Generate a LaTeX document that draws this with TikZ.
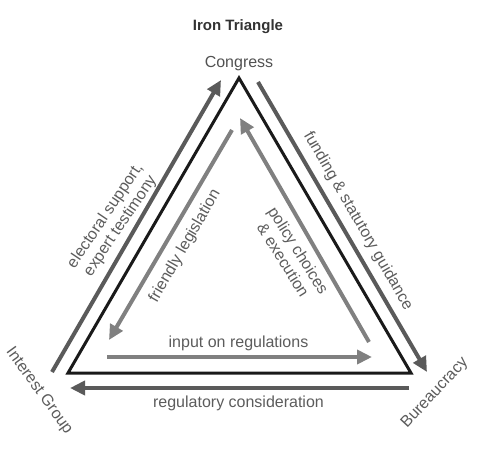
\documentclass[tikz,border=0pt]{standalone}
\usepackage{fontspec}
\setmainfont{Liberation Sans}
\usetikzlibrary{arrows.meta}
\definecolor{outergray}{HTML}{5A5A5A}
\definecolor{innergray}{HTML}{808080}
\definecolor{labelgray}{HTML}{5C5C5C}
\definecolor{titlegray}{HTML}{333333}
\definecolor{trigray}{HTML}{1A1A1A}
\begin{document}
\begin{tikzpicture}[x=1pt,y=-1pt,
  lbl/.style={text=labelgray, font=\fontsize{16}{18}\selectfont, inner sep=0pt, align=center},
  outerarrow/.style={draw=outergray, line width=4pt, -{Triangle[length=15pt,width=14pt]}},
  innerarrow/.style={draw=innergray, line width=4pt, -{Triangle[length=15pt,width=14pt]}},
  tri/.style={draw=trigray, line width=3pt, line join=miter}]
\useasboundingbox (0,0) rectangle (485,448);
% triangle vertices
\coordinate (A) at (239,78);
\coordinate (L) at (68,373);
\coordinate (R) at (411,373);
\draw[tri] (A) -- (L) -- (R) -- cycle;
% outer arrow ends
\coordinate (o1s) at (52,372);  \coordinate (o1e) at (221,80);
\coordinate (o2s) at (258,82);  \coordinate (o2e) at (427,372);
\coordinate (o3s) at (409,388); \coordinate (o3e) at (70,388);
% inner arrow ends
\coordinate (i1s) at (232,130); \coordinate (i1e) at (109,340);
\coordinate (i2s) at (369,342); \coordinate (i2e) at (240,118);
\coordinate (i3s) at (107,357); \coordinate (i3e) at (372,357);
\draw[outerarrow] (o1s) -- (o1e);
\draw[outerarrow] (o2s) -- (o2e);
\draw[outerarrow] (o3s) -- (o3e);
\draw[innerarrow] (i1s) -- (i1e);
\draw[innerarrow] (i2s) -- (i2e);
\draw[innerarrow] (i3s) -- (i3e);
% labels
\node[text=titlegray, font=\fontsize{15}{18}\selectfont\bfseries, inner sep=0pt, anchor=base] (title) at (238,30) {Iron Triangle};
\node[lbl, text=titlegray!85, anchor=base] (congress) at (239,67) {Congress};
\node[lbl, rotate=-54] (interest) at (39,391) {Interest Group};
\node[lbl, rotate=47] (bureau) at (435,393) {Bureaucracy};
\node[lbl, anchor=base] (regcons) at (238.5,407) {regulatory consideration};
\node[lbl, anchor=base] (inputreg) at (238.5,347) {input on regulations};
\node[lbl, rotate=56] (electoral) at (113,221) {electoral support,\\expert testimony};
\node[lbl, rotate=-60] (funding) at (358,221) {funding \& statutory guidance};
\node[lbl, rotate=60] (friendly) at (185,246) {friendly legislation};
\node[lbl, rotate=-58] (policy) at (291,255) {policy choices\\\& execution};
\end{tikzpicture}
\end{document}
